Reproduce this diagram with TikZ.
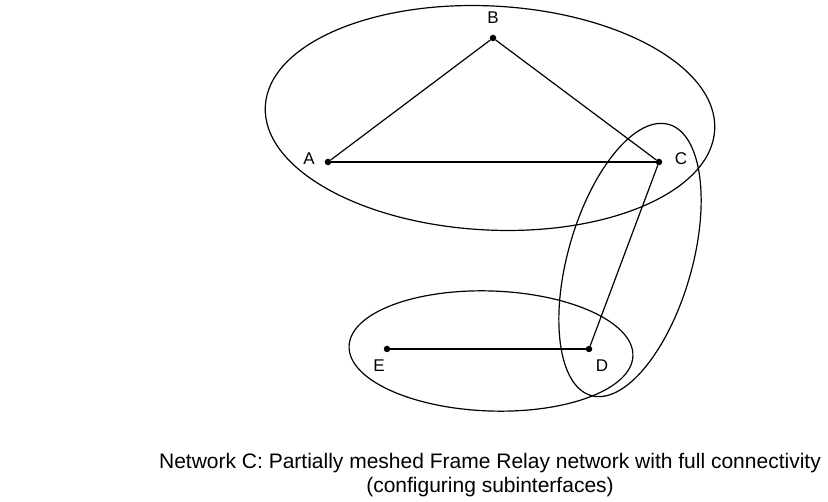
\documentclass[tikz,border=0pt]{standalone}
\usepackage{fontspec}
\setmainfont{Liberation Sans}
\usetikzlibrary{positioning}
\begin{document}
\begin{tikzpicture}[
  x=1pt,y=-1pt,
  site/.style={circle, fill, inner sep=0pt, minimum size=6.5pt},
  lbl/.style={font=\fontsize{17}{20}\selectfont, inner sep=0pt},
  link/.style={line width=1.2pt},
  group/.style={line width=1.2pt}
]
\useasboundingbox (0,0) rectangle (828,502);
% sites
\node[site] (B) at (493,38) {};
\node[site] (A) at (328,162) {};
\node[site] (C) at (659,162) {};
\node[site] (E) at (387,349) {};
\node[site] (D) at (589,349) {};
\node[lbl] (lB) at (493,18) {B};
\node[lbl] (lA) at (309,159) {A};
\node[lbl] (lC) at (681,159) {C};
\node[lbl] (lE) at (379,366) {E};
\node[lbl] (lD) at (602,366) {D};
\foreach \a/\b in {A/B,B/C,A/C,C/D,E/D}{\draw[link] (\a) -- (\b);}
% subinterface groups
\draw[group, rotate around={-3:(490,118)}] (490,118) ellipse [x radius=225, y radius=112];
\draw[group, rotate around={-16:(630,260)}] (630,260) ellipse [x radius=62, y radius=141];
\draw[group, rotate around={-2:(491,351)}] (491,351) ellipse [x radius=142, y radius=60];
\node[font=\fontsize{21}{24}\selectfont, align=center] (cap) at (490,475)
  {Network C: Partially meshed Frame Relay network with full connectivity\\(configuring subinterfaces)};
\end{tikzpicture}
\end{document}
